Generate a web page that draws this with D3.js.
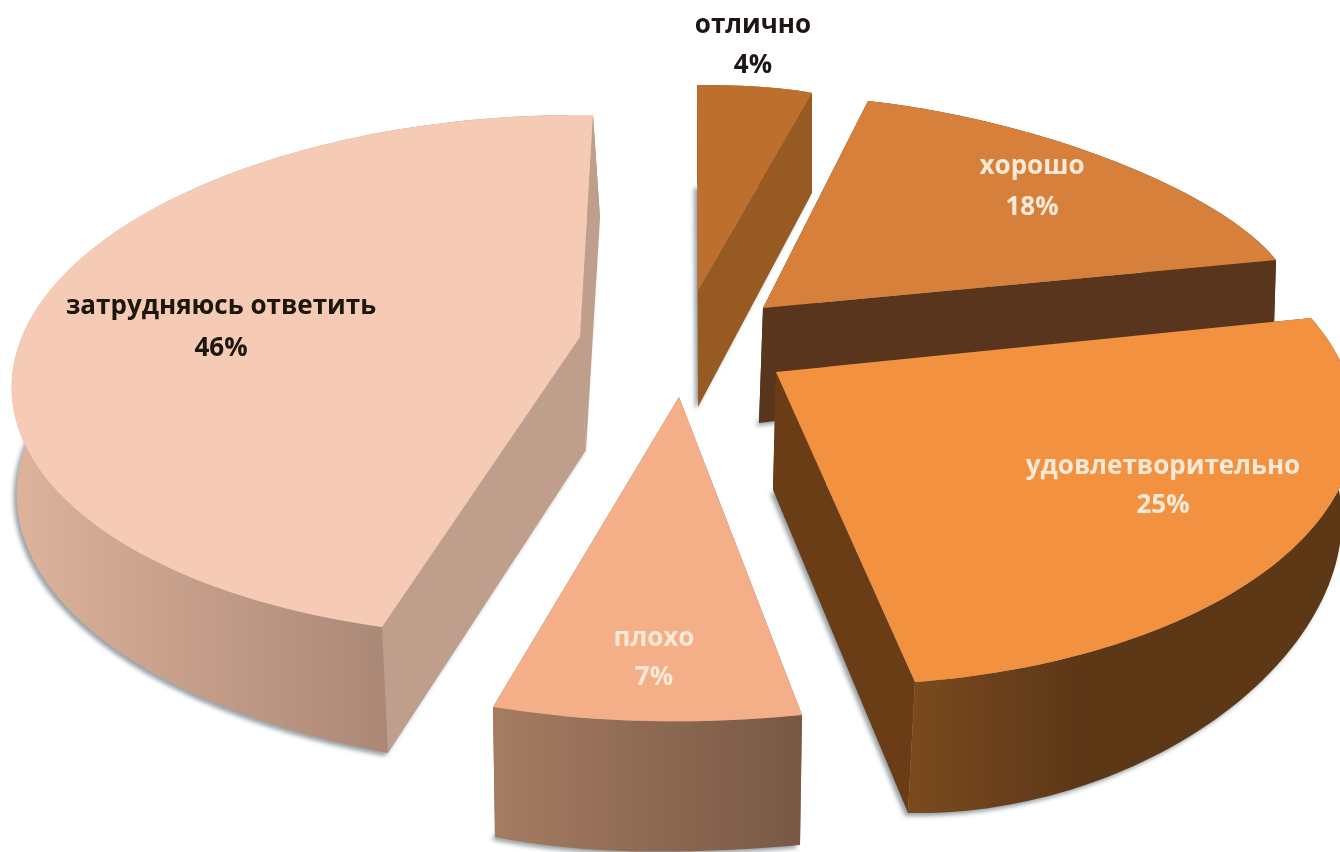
<!DOCTYPE html>
<html lang="ru"><head><meta charset="utf-8">
<script src="https://cdn.jsdelivr.net/npm/d3@7"></script>
<style>html,body{margin:0;padding:0;background:#fff}svg{display:block}
text{font-family:"Open Sans",sans-serif;font-weight:700;text-anchor:middle}</style>
</head><body><svg id="chart" width="1340" height="852" role="img" aria-label="Круговая диаграмма"></svg>
<script>
// --- data ---
const categories = ["отлично", "хорошо", "удовлетворительно", "плохо", "затрудняюсь ответить"];
const values = [4, 18, 25, 7, 46];

// --- styles ---
const topColors = ["#bd702f", "#d6803a", "#f2923f", "#f4ae88", "#f6cbb5"];
const cutColors = ["#975a24", "#58351a", "#6a3d19", "#8d6a55", "#bf9f8c"];
const wallStops = [["#975a24","#975a24"],["#58351a","#58351a"],["#7a4a1c","#5c3719"],["#a57c62","#785844"],["#dcb29b","#ab8876"]];
const wallRange = [[697,812],[760,1276],[915,1080],[495,800],[20,385]];
const labelColors = ["#1c1512", "#fbe9d8", "#fbe9d8", "#fbe9d8", "#1c1208"];
const paintOrder = [0, 1, 4, 3, 2];

// --- perspective: tip of each exploded slice, and where 0, 1/3, 2/3, 3/3 of its arc land ---
const topTips = [[698,290],[763,308],[776,372],[679,397],[580,337]];
const bottomTips = [[698,407],[759,423],[773,490],[679,520],[586,450]];
const topPlane = [
  [[697,85],[735,85.5],[775,88],[812,93]],
  [[868,101],[1008,127],[1165,183],[1276,260]],
  [[1311,318],[1340,487],[1173,623],[915,682]],
  [[802,715],[700,721],[600,719],[493,707]],
  [[382,627],[50,483],[100,243],[593,115]]
];
const bottomPlane = [
  [[697,185],[735,185.5],[775,188],[812,193]],
  [[868,200],[1008,227],[1165,283],[1273,360]],
  [[1308,425],[1333,573],[1175,745],[908,813]],
  [[800,845],[700,851],[600,850],[495,837]],
  [[388,753],[50,587],[108,345],[600,218]]
];
const labelPos = [[753,33,73],[1032,174,215],[1163,474,513],[654,646,685],[221,314,356]];

function solve(A, b) {
  const n = b.length, M = A.map((r,i) => [...r, b[i]]);
  for (let c = 0; c < n; c++) {
    let p = c; for (let r = c+1; r < n; r++) if (Math.abs(M[r][c]) > Math.abs(M[p][c])) p = r;
    [M[c], M[p]] = [M[p], M[c]];
    for (let r = 0; r < n; r++) if (r !== c) {
      const f = M[r][c] / M[c][c];
      for (let k = c; k <= n; k++) M[r][k] -= f * M[c][k];
    }
  }
  return M.map((r,i) => r[n] / r[i]);
}
function homography(src, dst) {
  const A = [], b = [];
  src.forEach(([x,y],i) => {
    const [X,Y] = dst[i];
    A.push([x,y,1,0,0,0,-x*X,-y*X]); b.push(X);
    A.push([0,0,0,x,y,1,-x*Y,-y*Y]); b.push(Y);
  });
  const h = solve(A,b);
  return ([x,y]) => { const w = h[6]*x+h[7]*y+1; return [(h[0]*x+h[1]*y+h[2])/w, (h[3]*x+h[4]*y+h[5])/w]; };
}
const unit = a => [Math.sin(a), -Math.cos(a)];

const svg = d3.select("#chart");
const defs = svg.append("defs");
defs.append("filter").attr("id","soft").attr("x","-2%").attr("y","-2%").attr("width","104%").attr("height","104%")
  .append("feGaussianBlur").attr("stdDeviation",0.55);
defs.append("filter").attr("id","shadow").attr("x","-5%").attr("y","-5%").attr("width","110%").attr("height","110%")
  .append("feGaussianBlur").attr("stdDeviation",2);

const arcs = d3.pie().sort(null).value(d => d)(values);
const line = d3.line();
const root = svg.append("g").attr("filter","url(#soft)");

paintOrder.forEach(i => {
  const d = arcs[i], span = d.endAngle - d.startAngle;
  const src = [0,1/3,2/3,1].map(t => unit(d.startAngle + span*t));
  const pTop = homography(src, topPlane[i]);
  const pBot = homography(src, bottomPlane[i]);
  const n = Math.max(12, Math.round(span/0.02));
  const angles = d3.range(n+1).map(k => d.startAngle + span*k/n);
  const arcTop = angles.map(a => pTop(unit(a)));
  const arcBot = angles.map(a => pBot(unit(a)));
  const tipTop = topTips[i], tipBot = bottomTips[i];

  const g = root.append("g").attr("class","slice");
  g.append("path").attr("d", line([tipBot, ...arcBot]) + "Z")
    .attr("transform","translate(-3,3)").attr("fill","#76838a").attr("opacity",0.75).attr("filter","url(#shadow)");

  const gid = "wall"+i;
  const grad = defs.append("linearGradient").attr("id",gid).attr("gradientUnits","userSpaceOnUse")
    .attr("x1",wallRange[i][0]).attr("x2",wallRange[i][1]).attr("y1",0).attr("y2",0);
  grad.append("stop").attr("offset",0).attr("stop-color",wallStops[i][0]);
  grad.append("stop").attr("offset",1).attr("stop-color",wallStops[i][1]);

  const arcWall = {pts:[...arcTop, ...arcBot.slice().reverse()], fill:`url(#${gid})`};
  const cuts = [[arcTop[0],arcBot[0]], [arcTop[n],arcBot[n]]]
    .map(([a,b]) => ({pts:[tipTop,a,b,tipBot], fill:cutColors[i], back:a[1] < tipTop[1]}));
  // the rim goes over the cut faces only when it faces the viewer; a cut running back past the tip stays on top of it
  const rimInFront = arcTop[Math.floor(n/2)][1] > tipTop[1];
  const faces = rimInFront
    ? [...cuts.filter(c => !c.back), arcWall, ...cuts.filter(c => c.back)]
    : [arcWall, ...cuts];
  g.selectAll("path.face").data(faces).join("path").attr("class","face")
    .attr("d", f => line(f.pts)+"Z").attr("fill", f => f.fill);

  g.append("path").attr("class","top").attr("d", line([tipTop, ...arcTop])+"Z").attr("fill",topColors[i]);
});

const labels = root.append("g");
arcs.forEach((d,i) => {
  const [x,y1,y2] = labelPos[i];
  labels.append("text").attr("x",x).attr("y",y1).attr("font-size",26).attr("fill",labelColors[i]).text(categories[i]);
  labels.append("text").attr("x",x).attr("y",y2).attr("font-size",26).attr("fill",labelColors[i]).text(d.value+"%");
});
</script></body></html>
